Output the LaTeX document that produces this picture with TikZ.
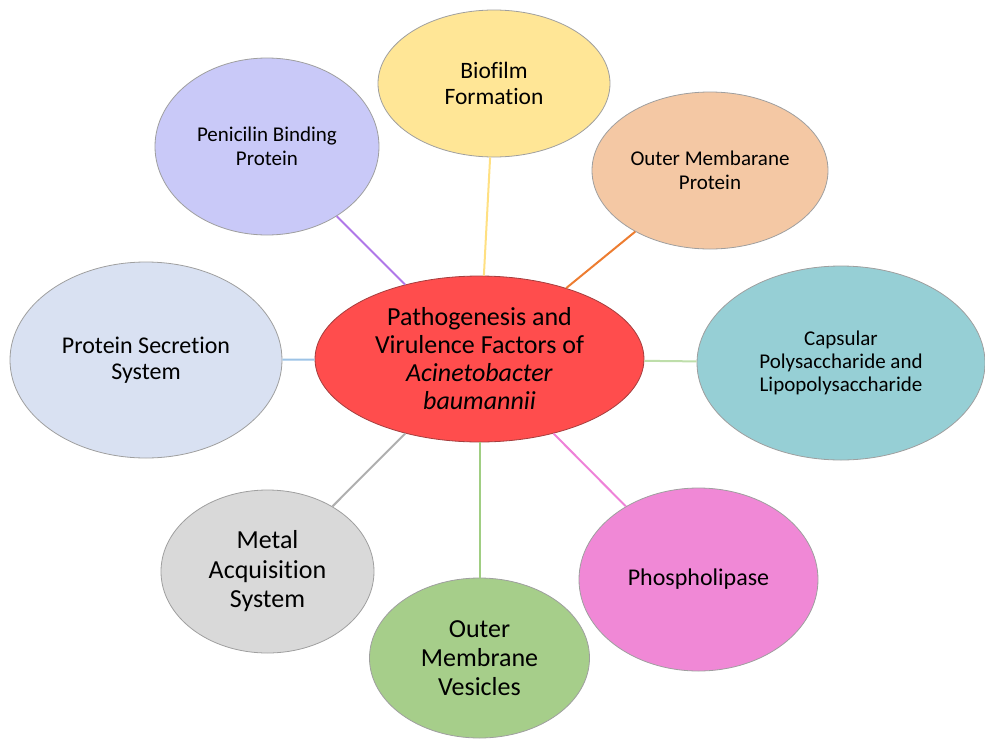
\documentclass[tikz,border=0pt]{standalone}
\usepackage{fontspec}
\setmainfont{Carlito}[Ligatures=NoCommon]
\usepackage{xcolor}
\usepackage{tikz}
\usetikzlibrary{shapes,positioning}
\definecolor{redfill}{RGB}{255,77,77}
\definecolor{reddraw}{RGB}{165,62,62}
\definecolor{bffill}{RGB}{255,230,150}
\definecolor{pbfill}{RGB}{201,201,248}
\definecolor{ompfill}{RGB}{244,200,164}
\definecolor{capfill}{RGB}{150,207,213}
\definecolor{psfill}{RGB}{217,225,242}
\definecolor{phfill}{RGB}{240,136,214}
\definecolor{mafill}{RGB}{217,217,217}
\definecolor{omvfill}{RGB}{166,206,138}
\definecolor{pbline}{RGB}{176,120,232}
\definecolor{bfline}{RGB}{255,224,130}
\definecolor{ompline}{RGB}{237,125,49}
\definecolor{capline}{RGB}{190,222,170}
\definecolor{psline}{RGB}{157,195,230}
\definecolor{phline}{RGB}{238,130,216}
\definecolor{maline}{RGB}{175,175,175}
\definecolor{omvline}{RGB}{160,206,130}
\tikzset{main node/.style={ellipse,draw=gray!75,line width=.8pt,inner sep=0pt,align=center},
            }

\begin{document}
\begin{tikzpicture}[x=1pt,y=1pt,on grid]
    \useasboundingbox (-479.5,-381) rectangle (505.5,359);

    \node[main node,fill=redfill,draw=reddraw,minimum width=329pt,minimum height=166pt,font=\fontsize{26}{28}\selectfont] (0) {Pathogenesis and\\Virulence Factors of\\\textit{Acinetobacter}\\\textit{baumannii}};
    \node[main node,fill=bffill,minimum width=232pt,minimum height=147pt,font=\fontsize{23.5}{26}\selectfont] (1) [above right = 275.5pt and 14.5pt of 0] {Biofilm\\Formation};
    \node[main node,fill=pbfill,minimum width=224pt,minimum height=177pt,font=\fontsize{21}{24}\selectfont] (2) [above left = 212.5pt and 212.5pt of 0] {Penicilin Binding\\Protein};
    \node[main node,fill=ompfill,minimum width=236pt,minimum height=157pt,font=\fontsize{21}{24}\selectfont] (3) [above right = 188.5pt and 230.5pt of 0] {Outer Membarane\\Protein};
    \node[main node,fill=capfill,minimum width=288pt,minimum height=194pt,font=\fontsize{21}{23}\selectfont] (4) [below right = 4pt and 361.5pt of 0] {Capsular\\Polysaccharide and\\Lipopolysaccharide};
    \node[main node,fill=psfill,minimum width=272pt,minimum height=196pt,font=\fontsize{24}{26}\selectfont] (5) [below left = 1pt and 333.5pt of 0] {Protein Secretion\\System};
    \node[main node,fill=phfill,minimum width=239pt,minimum height=183pt,font=\fontsize{24}{26}\selectfont] (6) [below right = 220.5pt and 219pt of 0] {Phospholipase};
    \node[main node,fill=mafill,minimum width=213pt,minimum height=163pt,font=\fontsize{26}{29.5}\selectfont] (7) [below left = 212.5pt and 212pt of 0] {Metal\\Acquisition\\System};
    \node[main node,fill=omvfill,minimum width=220pt,minimum height=160pt,font=\fontsize{26}{29}\selectfont] (8) [below = 299pt of 0] {Outer\\Membrane\\Vesicles};

    \path[draw,line width=2pt,-]
    (0) edge[draw=bfline] (1)
    (0) edge[draw=pbline] (2)
    (0) edge[draw=ompline] (3)
    (0) edge[draw=capline] (4)
    (0) edge[draw=psline] (5)
    (0) edge[draw=phline] (6)
    (0) edge[draw=maline] (7)
    (0) edge[draw=omvline] (8);

\end{tikzpicture}
\end{document}
